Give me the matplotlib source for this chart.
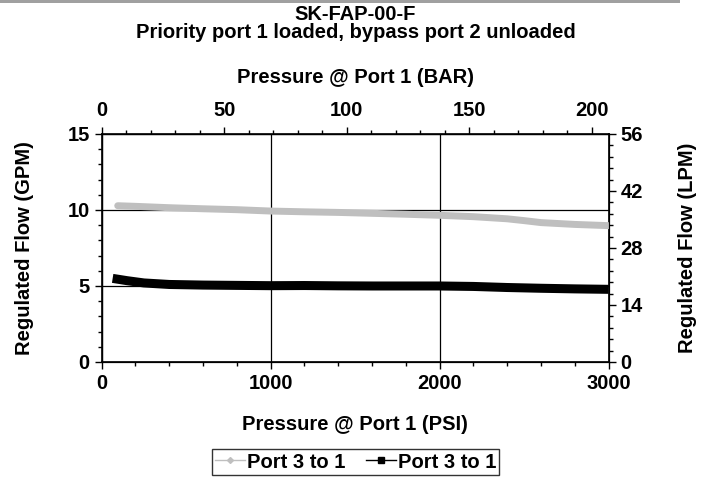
import numpy as np
import matplotlib.pyplot as plt
from matplotlib.lines import Line2D
from matplotlib.patches import Rectangle
from matplotlib.ticker import MultipleLocator

plt.rcParams['font.family'] = ['Liberation Sans', 'DejaVu Sans']
plt.rcParams['font.weight'] = 'bold'
plt.rcParams['font.size'] = 14.5

# Data (PSI vs GPM)
psi_gray = [95, 200, 400, 600, 800, 1000, 1200, 1400, 1600, 1800, 2000, 2200, 2400, 2500, 2600, 2800, 3000]
gpm_gray = [10.28, 10.24, 10.15, 10.08, 10.02, 9.93, 9.88, 9.84, 9.78, 9.72, 9.65, 9.56, 9.42, 9.30, 9.17, 9.05, 8.97]

psi_black = [65, 150, 250, 400, 600, 800, 1000, 1200, 1400, 1600, 1800, 2000, 2200, 2400, 2600, 2800, 3000]
gpm_black = [5.50, 5.35, 5.20, 5.10, 5.06, 5.04, 5.02, 5.03, 5.01, 5.00, 5.00, 5.00, 4.97, 4.90, 4.85, 4.81, 4.78]

legend_labels = ['Port 3 to 1', 'Port 3 to 1']

fs = 14.5

fig = plt.figure(figsize=(7.11, 4.78), dpi=100)
ax = fig.add_axes([0.143, 0.2427, 0.713, 0.477])

# gray strip at the top edge of the picture
fig.add_artist(Rectangle((0, 0.993), 0.957, 0.007, transform=fig.transFigure,
                         color='#a0a0a0', lw=0))

ax.plot(psi_gray, gpm_gray, color='#bfbfbf', lw=5, solid_capstyle='round', zorder=3)
ax.plot(psi_black, gpm_black, color='black', lw=6.5, solid_capstyle='butt', zorder=4)

ax.set_xlim(0, 3000)
ax.set_ylim(0, 15)
ax.xaxis.set_major_locator(MultipleLocator(1000))
ax.xaxis.set_minor_locator(MultipleLocator(200))
ax.yaxis.set_major_locator(MultipleLocator(5))
ax.yaxis.set_minor_locator(MultipleLocator(1))
ax.grid(True, which='major', color='black', lw=0.9)
ax.set_axisbelow(True)
ax.tick_params(which='both', direction='out', width=1)
ax.tick_params(which='major', length=5, labelsize=fs)
ax.tick_params(which='minor', length=3)
for s in ax.spines.values():
    s.set_linewidth(1.2)
ax.set_xlabel('Pressure @ Port 1 (PSI)', fontsize=fs, fontweight='bold', labelpad=16)
ax.set_ylabel('Regulated Flow (GPM)', fontsize=fs, fontweight='bold', labelpad=24)

# right axis in LPM
axr = ax.twinx()
axr.set_ylim(0, 56)
axr.yaxis.set_major_locator(MultipleLocator(14))
axr.yaxis.set_minor_locator(MultipleLocator(2.8))
axr.tick_params(which='both', direction='out', width=1)
axr.tick_params(which='major', length=5, labelsize=fs)
axr.tick_params(which='minor', length=3)
axr.set_ylabel('Regulated Flow (LPM)', fontsize=fs, fontweight='bold', labelpad=25)

# top axis in BAR
axt = ax.twiny()
axt.set_xlim(0, 3000 / 14.5038)
axt.xaxis.set_major_locator(MultipleLocator(50))
axt.xaxis.set_minor_locator(MultipleLocator(10))
axt.tick_params(which='both', direction='out', width=1)
axt.tick_params(which='major', length=5, labelsize=fs, pad=5)
axt.tick_params(which='minor', length=3)
axt.set_xlabel('Pressure @ Port 1 (BAR)', fontsize=fs, fontweight='bold', labelpad=13)

fig.text(0.5, 1 - 20 / 478, 'SK-FAP-00-F', ha='center', va='baseline', fontsize=fs, fontweight='bold')
fig.text(0.5, 1 - 38 / 478, 'Priority port 1 loaded, bypass port 2 unloaded', ha='center',
         va='baseline', fontsize=fs, fontweight='bold')

handles = [
    Line2D([], [], color='#bfbfbf', lw=1, marker='D', markersize=3),
    Line2D([], [], color='black', lw=1, marker='s', markersize=4),
]
leg = fig.legend(handles, legend_labels, loc='center', bbox_to_anchor=(0.5, 1 - 462 / 478),
                 ncol=2, frameon=True, fancybox=False, edgecolor='black',
                 fontsize=fs, handlelength=1.5, handletextpad=0.1, columnspacing=1.0,
                 borderpad=0.15)
leg.get_frame().set_linewidth(1)

fig.savefig('out.png', dpi=100, facecolor='white')
